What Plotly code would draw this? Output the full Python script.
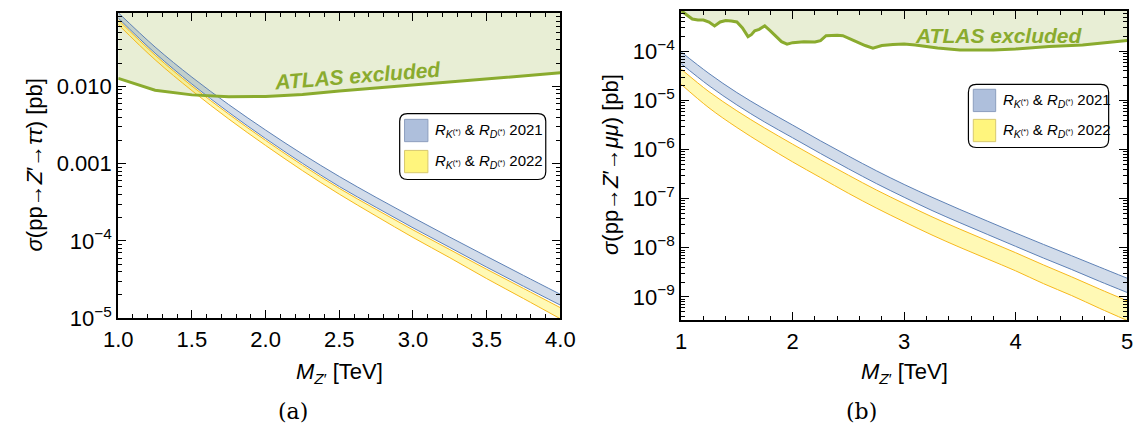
import plotly.graph_objects as go

# ---------------- data ----------------
# (a) sigma(pp -> Z' -> tau tau) [pb]
mz_tau = [1.0, 1.25, 1.5, 1.75, 2.0, 2.25, 2.5, 2.75, 3.0, 3.25, 3.5, 3.75, 4.0]
tau_2021_hi = [0.0899, 0.0323, 0.01315, 0.00581, 0.00272, 0.00133, 6.82e-4, 3.66e-4, 2.01e-4, 1.12e-4, 6.32e-5, 3.58e-5, 2.04e-5]
tau_2021_lo = [0.0766, 0.0269, 0.0107, 0.00461, 0.00211, 0.00101, 5.06e-4, 2.72e-4, 1.48e-4, 8.24e-5, 4.58e-5, 2.59e-5, 1.48e-5]
tau_2022_hi = [0.0724, 0.0254, 0.0101, 0.00437, 0.00200, 9.55e-4, 4.79e-4, 2.56e-4, 1.39e-4, 7.73e-5, 4.30e-5, 2.43e-5, 1.37e-5]
tau_2022_lo = [0.0631, 0.0221, 0.00881, 0.00378, 0.00172, 8.13e-4, 4.03e-4, 2.10e-4, 1.11e-4, 6.07e-5, 3.26e-5, 1.80e-5, 9.84e-6]
atlas_tau_m = [1.0, 1.25, 1.5, 1.75, 2.0, 2.25, 2.5, 2.75, 3.0, 3.25, 3.5, 3.75, 4.0]
atlas_tau = [0.0127, 0.00891, 0.00776, 0.00733, 0.00741, 0.00785, 0.00871, 0.00955, 0.01047, 0.01135, 0.01245, 0.01365, 0.01496]

# (b) sigma(pp -> Z' -> mu mu) [pb]
mz_mu = [1.0, 1.25, 1.5, 1.75, 2.0, 2.25, 2.5, 2.75, 3.0, 3.25, 3.5, 3.75, 4.0, 4.25, 4.5, 4.75, 5.0]
mu_2021_hi = [9.77e-5, 3.55e-5, 1.45e-5, 6.61e-6, 3.16e-6, 1.51e-6, 7.41e-7, 3.72e-7, 1.95e-7, 1.07e-7, 6.03e-8, 3.47e-8, 2.00e-8, 1.17e-8, 6.92e-9, 4.07e-9, 2.40e-9]
mu_2021_lo = [5.62e-5, 2.00e-5, 8.13e-6, 3.63e-6, 1.74e-6, 8.32e-7, 4.07e-7, 2.04e-7, 1.07e-7, 5.75e-8, 3.24e-8, 1.86e-8, 1.07e-8, 6.17e-9, 3.63e-9, 2.09e-9, 1.23e-9]
mu_2022_hi = [4.37e-5, 1.51e-5, 6.17e-6, 2.75e-6, 1.29e-6, 6.17e-7, 3.02e-7, 1.51e-7, 7.94e-8, 4.27e-8, 2.40e-8, 1.38e-8, 7.94e-9, 4.47e-9, 2.57e-9, 1.45e-9, 8.32e-10]
mu_2022_lo = [2.14e-5, 7.08e-6, 2.82e-6, 1.23e-6, 5.62e-7, 2.69e-7, 1.29e-7, 6.46e-8, 3.39e-8, 1.82e-8, 1.02e-8, 5.89e-9, 3.39e-9, 1.86e-9, 1.07e-9, 5.89e-10, 3.31e-10]
atlas_mu_m = [1.00, 1.05, 1.10, 1.15, 1.20, 1.25, 1.30, 1.35, 1.40, 1.45, 1.50, 1.55, 1.60, 1.63, 1.66, 1.70,
              1.75, 1.80, 1.85, 1.90, 1.95, 2.00, 2.10, 2.20, 2.25, 2.30, 2.40, 2.45, 2.55, 2.65, 2.72, 2.80,
              2.90, 3.00, 3.10, 3.20, 3.30, 3.50, 3.80, 4.00, 4.30, 4.60, 4.80, 5.00]
atlas_mu = [6.76e-4, 5.62e-4, 4.57e-4, 4.37e-4, 4.37e-4, 3.98e-4, 3.31e-4, 3.98e-4, 4.27e-4, 4.17e-4, 3.98e-4, 3.02e-4,
            2.00e-4, 2.19e-4, 2.63e-4, 2.82e-4, 3.31e-4, 2.63e-4, 2.00e-4, 1.58e-4, 1.41e-4, 1.51e-4, 1.58e-4, 1.55e-4,
            1.66e-4, 2.09e-4, 2.14e-4, 2.09e-4, 1.66e-4, 1.32e-4, 1.17e-4, 1.32e-4, 1.38e-4, 1.41e-4, 1.35e-4, 1.26e-4,
            1.17e-4, 1.07e-4, 1.07e-4, 1.12e-4, 1.26e-4, 1.35e-4, 1.48e-4, 1.66e-4]

x_ticks_a = [1.0, 1.5, 2.0, 2.5, 3.0, 3.5, 4.0]
x_labels_a = ["1.0", "1.5", "2.0", "2.5", "3.0", "3.5", "4.0"]
y_ticks_a = [1e-5, 1e-4, 1e-3, 1e-2]
y_labels_a = ["10<sup>−5</sup>", "10<sup>−4</sup>", "0.001", "0.010"]
x_ticks_b = [1, 2, 3, 4, 5]
x_labels_b = ["1", "2", "3", "4", "5"]
y_ticks_b = [1e-9, 1e-8, 1e-7, 1e-6, 1e-5, 1e-4]
y_labels_b = ["10<sup>−9</sup>", "10<sup>−8</sup>", "10<sup>−7</sup>", "10<sup>−6</sup>", "10<sup>−5</sup>", "10<sup>−4</sup>"]

legend_labels = ["<i>R</i><sub><i>K</i><sup>(*)</sup></sub> & <i>R</i><sub><i>D</i><sup>(*)</sup></sub> 2021",
                 "<i>R</i><sub><i>K</i><sup>(*)</sup></sub> & <i>R</i><sub><i>D</i><sup>(*)</sup></sub> 2022"]

# ---------------- styles ----------------
W, H = 1148, 438
BLUE_LINE = "rgb(94,129,181)"
BLUE_FILL = "rgba(94,129,181,0.28)"
YEL_LINE = "rgb(246,184,28)"
YEL_FILL = "rgba(255,240,60,0.38)"
GREEN_LINE = "rgb(138,171,46)"
GREEN_FILL = "rgba(138,171,46,0.2)"
FONT = "Liberation Sans, Arial, sans-serif"

fig = go.Figure()


def add_panel(xa, ya, top_val, atlas_x, atlas_y, mx, b_hi, b_lo, y_hi, y_lo, x_end):
    # ATLAS excluded region
    fig.add_trace(go.Scatter(x=[atlas_x[0], x_end], y=[top_val, top_val], mode="lines",
                             line=dict(width=0, color="rgba(0,0,0,0)"), xaxis=xa, yaxis=ya,
                             showlegend=False, hoverinfo="skip"))
    fig.add_trace(go.Scatter(x=atlas_x, y=atlas_y, mode="lines", fill="tonexty", fillcolor=GREEN_FILL,
                             line=dict(width=0, color="rgba(0,0,0,0)"), xaxis=xa, yaxis=ya,
                             showlegend=False, hoverinfo="skip"))
    # bands
    for lo, hi, lc, fc in [(b_lo, b_hi, BLUE_LINE, BLUE_FILL), (y_lo, y_hi, YEL_LINE, YEL_FILL)]:
        fig.add_trace(go.Scatter(x=mx, y=lo, mode="lines", line=dict(color=lc, width=1, shape="spline"),
                                 xaxis=xa, yaxis=ya, showlegend=False))
        fig.add_trace(go.Scatter(x=mx, y=hi, mode="lines", fill="tonexty", fillcolor=fc,
                                 line=dict(color=lc, width=1, shape="spline"),
                                 xaxis=xa, yaxis=ya, showlegend=False))
    # ATLAS line
    fig.add_trace(go.Scatter(x=atlas_x, y=atlas_y, mode="lines", line=dict(color=GREEN_LINE, width=3),
                             xaxis=xa, yaxis=ya, showlegend=False))


add_panel("x", "y", 1.0, atlas_tau_m, atlas_tau, mz_tau, tau_2021_hi, tau_2021_lo, tau_2022_hi, tau_2022_lo, 4.0)
add_panel("x2", "y2", 0.01, atlas_mu_m, atlas_mu, mz_mu, mu_2021_hi, mu_2021_lo, mu_2022_hi, mu_2022_lo, 5.0)


def px_x(p):
    return p / W


def px_y(p):
    return 1 - p / H


minor_log = [k * 10.0 ** e for e in range(-11, 0) for k in range(2, 10)]

axis_common = dict(showline=True, linecolor="black", linewidth=2, mirror="ticks", ticks="inside",
                   tickcolor="black", tickwidth=1.3, ticklen=8, showgrid=False, zeroline=False,
                   tickfont=dict(family=FONT, size=22, color="black"))

fig.update_layout(
    width=W, height=H, margin=dict(l=0, r=0, t=0, b=0),
    paper_bgcolor="white", plot_bgcolor="white", showlegend=False,
    xaxis=dict(domain=[px_x(106), px_x(560)], range=[1, 4], anchor="y", tickmode="array",
               tickvals=x_ticks_a, ticktext=x_labels_a,
               minor=dict(ticks="inside", dtick=0.1, tick0=1.0, ticklen=4, tickcolor="black", showgrid=False),
               **axis_common),
    yaxis=dict(domain=[px_y(328), px_y(13)], type="log", range=[-5, -1.046], anchor="x", tickmode="array",
               tickvals=y_ticks_a, ticktext=y_labels_a,
               minor=dict(ticks="inside", tickmode="array", tickvals=minor_log, ticklen=4, tickcolor="black",
                          showgrid=False),
               **axis_common),
    xaxis2=dict(domain=[px_x(684), px_x(1142)], range=[1, 5], anchor="y2", tickmode="array",
                tickvals=x_ticks_b, ticktext=x_labels_b,
                minor=dict(ticks="inside", dtick=0.2, tick0=1.0, ticklen=4, tickcolor="black", showgrid=False),
                **axis_common),
    yaxis2=dict(domain=[px_y(330), px_y(11)], type="log", range=[-9.475, -3.17], anchor="x2", tickmode="array",
                tickvals=y_ticks_b, ticktext=y_labels_b,
                minor=dict(ticks="inside", tickmode="array", tickvals=minor_log, ticklen=4, tickcolor="black",
                           showgrid=False),
                **axis_common),
)

ann = []
title_font = dict(family=FONT, size=22, color="black")
# axis titles
ann.append(dict(text="<i>σ</i>(pp→<i>Z</i>′→<i>ττ</i>) [pb]", x=px_x(20), y=px_y(170), xref="paper", yref="paper",
                textangle=-90, showarrow=False, font=title_font, xanchor="center", yanchor="middle"))
ann.append(dict(text="<i>σ</i>(pp→<i>Z</i>′→<i>μμ</i>) [pb]", x=px_x(612), y=px_y(170), xref="paper", yref="paper",
                textangle=-90, showarrow=False, font=title_font, xanchor="center", yanchor="middle"))
ann.append(dict(text="<i>M</i><sub><i>Z</i>′</sub> [TeV]", x=px_x(333), y=px_y(384), xref="paper", yref="paper",
                showarrow=False, font=title_font, xanchor="center", yanchor="middle"))
ann.append(dict(text="<i>M</i><sub><i>Z</i>′</sub> [TeV]", x=px_x(913), y=px_y(384), xref="paper", yref="paper",
                showarrow=False, font=title_font, xanchor="center", yanchor="middle"))
# captions
cap_font = dict(family="DejaVu Serif, Liberation Serif, serif", size=22, color="black")
ann.append(dict(text="(a)", x=px_x(285), y=px_y(424), xref="paper", yref="paper", showarrow=False,
                font=cap_font, xanchor="center", yanchor="middle"))
ann.append(dict(text="(b)", x=px_x(869), y=px_y(424), xref="paper", yref="paper", showarrow=False,
                font=cap_font, xanchor="center", yanchor="middle"))
# ATLAS excluded labels
atlas_font = dict(family=FONT, size=21, color=GREEN_LINE)
ann.append(dict(text="<b><i>ATLAS excluded</i></b>", x=px_x(352), y=px_y(78), xref="paper", yref="paper",
                textangle=-4.5, showarrow=False, font=atlas_font, xanchor="center", yanchor="middle"))
ann.append(dict(text="<b><i>ATLAS excluded</i></b>", x=px_x(1010), y=px_y(37), xref="paper", yref="paper",
                showarrow=False, font=atlas_font, xanchor="center", yanchor="middle"))

shapes = []


def rounded_box(x0, y0, x1, y1, r=8):
    X0, X1 = px_x(x0), px_x(x1)
    Y0, Y1 = px_y(y0), px_y(y1)
    rx, ry = r / W, r / H
    path = (f"M {X0+rx},{Y0} L {X1-rx},{Y0} Q {X1},{Y0} {X1},{Y0-ry} "
            f"L {X1},{Y1+ry} Q {X1},{Y1} {X1-rx},{Y1} L {X0+rx},{Y1} Q {X0},{Y1} {X0},{Y1+ry} "
            f"L {X0},{Y0-ry} Q {X0},{Y0} {X0+rx},{Y0} Z")
    return dict(type="path", path=path, xref="paper", yref="paper", line=dict(color="black", width=1.2),
                fillcolor="white", layer="above")


leg_font = dict(family=FONT, size=15, color="black")
for (bx0, by0, bx1, by1, sx0, sx1, s1y, s2y, tx) in [(395, 117, 545, 185, 400, 424, 123, 155, 429),
                                                     (979, 87, 1123, 152, 984, 1007, 92, 123, 1012)]:
    shapes.append(rounded_box(bx0, by0, bx1, by1))
    for sy, fc, lc, lab in [(s1y, "rgb(174,191,220)", "rgb(140,158,190)", legend_labels[0]),
                            (s2y, "rgb(255,245,125)", "rgb(215,200,110)", legend_labels[1])]:
        shapes.append(dict(type="rect", xref="paper", yref="paper", x0=px_x(sx0), x1=px_x(sx1),
                           y0=px_y(sy), y1=px_y(sy + 23), fillcolor=fc, line=dict(color=lc, width=1),
                           layer="above"))
        ann.append(dict(text=lab, x=px_x(tx), y=px_y(sy + 11.5), xref="paper", yref="paper", showarrow=False,
                        font=leg_font, xanchor="left", yanchor="middle"))

fig.update_layout(annotations=ann, shapes=shapes)
fig.write_html("out.html")
